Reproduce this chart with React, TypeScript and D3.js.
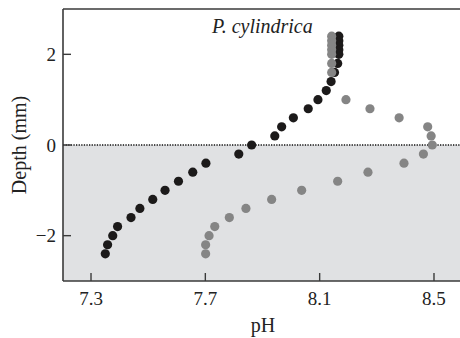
import React from "react";
import * as d3 from "d3";

const xTicks = [7.3, 7.7, 8.1, 8.5];
const yTicks = [-2, 0, 2];

const darkDepth = [2.4, 2.3, 2.2, 2.1, 2.0, 1.8, 1.6, 1.4, 1.2, 1.0, 0.8, 0.6, 0.4, 0.2, 0, -0.2, -0.4, -0.6, -0.8, -1.0, -1.2, -1.4, -1.6, -1.8, -2.0, -2.2, -2.4];
const darkPH = [8.167, 8.167, 8.167, 8.167, 8.167, 8.163, 8.152, 8.140, 8.123, 8.094, 8.060, 8.008, 7.967, 7.943, 7.862, 7.817, 7.702, 7.656, 7.606, 7.559, 7.516, 7.471, 7.440, 7.393, 7.376, 7.358, 7.350];

const lightDepth = [2.4, 2.3, 2.2, 2.1, 2.0, 1.8, 1.6, 1.0, 0.8, 0.6, 0.4, 0.2, 0, -0.2, -0.4, -0.6, -0.8, -1.0, -1.2, -1.4, -1.6, -1.8, -2.0, -2.2, -2.4];
const lightPH = [8.142, 8.142, 8.142, 8.142, 8.142, 8.142, 8.142, 8.192, 8.276, 8.378, 8.478, 8.490, 8.494, 8.463, 8.395, 8.269, 8.163, 8.037, 7.932, 7.842, 7.784, 7.733, 7.713, 7.701, 7.701];

const W = 460;
const H = 338;
const left = 63;
const top = 9;
const bottom = 281;
const right = 460;

export default function App() {
  const x = d3.scaleLinear().domain([7.202, 8.591]).range([left, right]);
  const y = d3.scaleLinear().domain([-3, 3]).range([bottom, top]);
  const font = { fontFamily: '"Liberation Serif", "DejaVu Serif", serif' };
  const axisColor = "#3a3a3a";
  const r = 4.6;

  return (
    <svg width={W} height={H} style={{ position: "absolute", left: 0, top: 0, background: "#fff" }}>
      <rect x={left} y={y(0)} width={right - left} height={bottom - y(0)} fill="#e0e1e3" />
      <line x1={left} x2={right} y1={y(0)} y2={y(0)} stroke="#111" strokeWidth={1.3} strokeDasharray="1.3,1.3" />

      <line x1={left} x2={right} y1={top} y2={top} stroke={axisColor} strokeWidth={1.6} />
      <line x1={left} x2={left} y1={top} y2={bottom} stroke={axisColor} strokeWidth={1.6} />
      <line x1={left} x2={right} y1={bottom} y2={bottom} stroke={axisColor} strokeWidth={1.6} />

      {xTicks.map((t) => (
        <g key={"x" + t}>
          <line x1={x(t)} x2={x(t)} y1={bottom} y2={bottom - 8} stroke={axisColor} strokeWidth={1.4} />
          <text x={x(t)} y={bottom + 24} textAnchor="middle" style={font} fontSize={19} fill="#222">
            {t.toFixed(1)}
          </text>
        </g>
      ))}
      {yTicks.map((t) => (
        <g key={"y" + t}>
          <line x1={left} x2={left + 8} y1={y(t)} y2={y(t)} stroke={axisColor} strokeWidth={1.4} />
          <text x={left - 7} y={y(t) + 6.5} textAnchor="end" style={font} fontSize={19} fill="#222">
            {t < 0 ? "\u2212" + Math.abs(t) : String(t)}
          </text>
        </g>
      ))}

      <text x={263} y={332} textAnchor="middle" style={font} fontSize={20} fill="#222">pH</text>
      <text transform={`translate(26,${(top + bottom) / 2}) rotate(-90)`} textAnchor="middle" style={font} fontSize={20} fill="#222">
        Depth (mm)
      </text>

      <text x={212} y={33} style={font} fontStyle="italic" fontSize={20} fill="#222">P. cylindrica</text>

      {darkPH.map((v, i) => (
        <circle key={"d" + i} cx={x(v)} cy={y(darkDepth[i])} r={r} fill="#1c1a1a" />
      ))}
      {lightPH.map((v, i) => (
        <circle key={"l" + i} cx={x(v)} cy={y(lightDepth[i])} r={r} fill="#858585" />
      ))}
    </svg>
  );
}
